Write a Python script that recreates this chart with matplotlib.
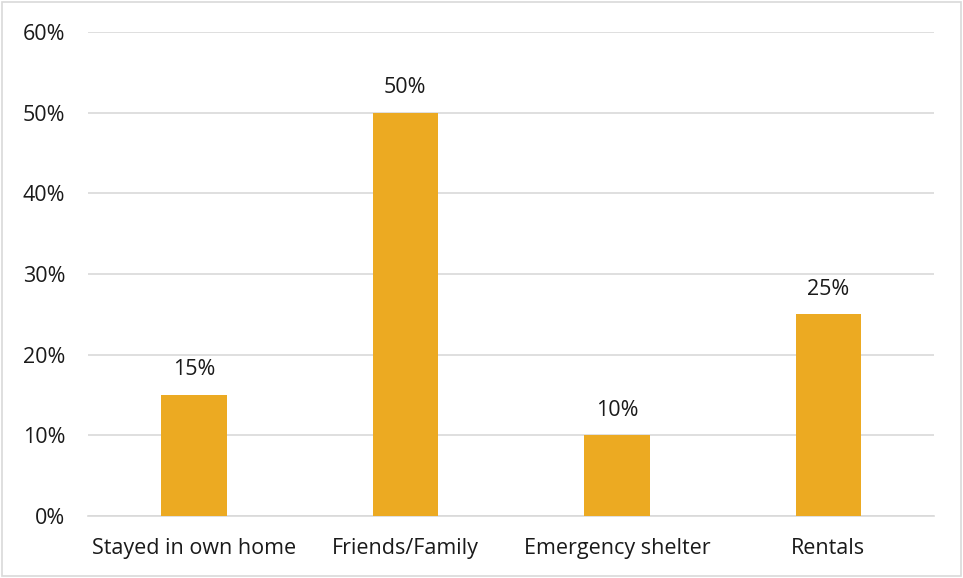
import matplotlib
matplotlib.use("Agg")
import matplotlib.pyplot as plt
from matplotlib.patches import Rectangle
from matplotlib.ticker import FuncFormatter

categories = ["Stayed in own home", "Friends/Family", "Emergency shelter", "Rentals"]
shares = [15, 50, 10, 25]
y_ticks = [0, 10, 20, 30, 40, 50, 60]

plt.rcParams["font.family"] = ["Open Sans", "DejaVu Sans"]

fig = plt.figure(figsize=(9.63, 5.78), dpi=100)
ax = fig.add_axes([0.0914, 0.1073, 0.8786, 0.8373])

x = range(len(categories))
ax.bar(x, shares, width=0.31, color="#ECAA22", zorder=3)

for xi, v in zip(x, shares):
    ax.text(xi, v + 1.8, f"{v}%", ha="center", va="bottom", fontsize=15.5, color="#1a1a1a")

ax.set_xlim(-0.5, len(categories) - 0.5)
ax.set_ylim(0, 60)
ax.set_yticks(y_ticks)
ax.yaxis.set_major_formatter(FuncFormatter(lambda v, _: f"{v:.0f}%"))
ax.set_xticks(list(x))
ax.set_xticklabels(categories)

ax.grid(axis="y", color="#D9D9D9", linewidth=1.2, zorder=0)
for side in ["top", "right", "left"]:
    ax.spines[side].set_visible(False)
ax.spines["bottom"].set_color("#D9D9D9")
ax.spines["bottom"].set_linewidth(1.2)
ax.tick_params(axis="both", length=0, labelsize=15.5, labelcolor="#1a1a1a")
ax.tick_params(axis="x", pad=16)
ax.tick_params(axis="y", pad=16.5)

# light frame round the whole figure
fig.patches.append(Rectangle((0.002, 0.003), 0.996, 0.994, transform=fig.transFigure,
                             fill=False, edgecolor="#D9D9D9", linewidth=1.2))

fig.savefig("out.png", dpi=100)
